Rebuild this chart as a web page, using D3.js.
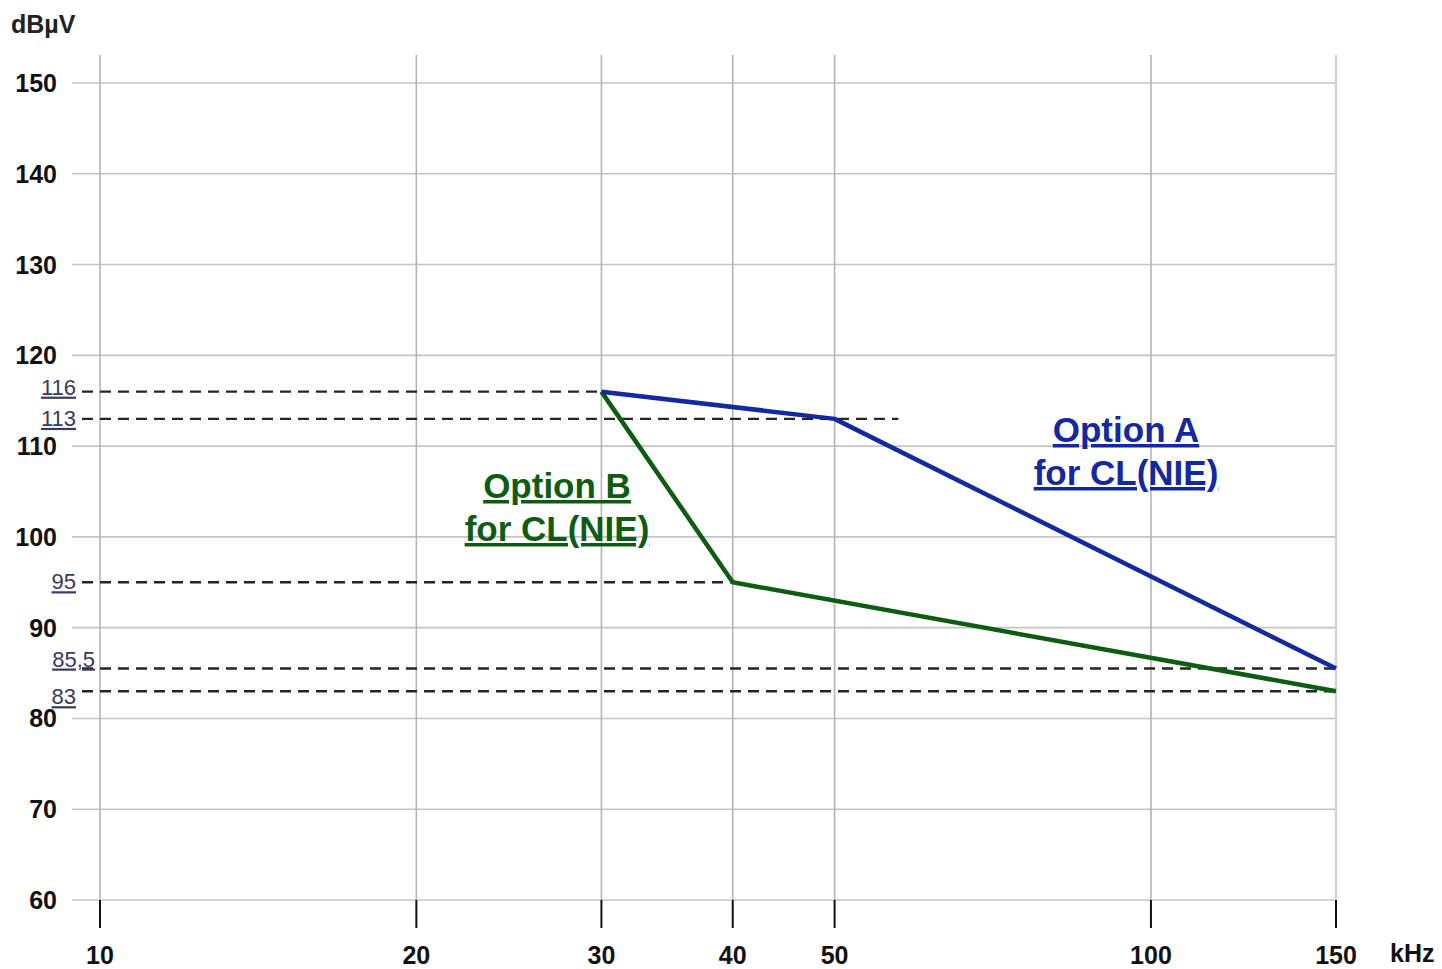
<!DOCTYPE html>
<html>
<head>
<meta charset="utf-8">
<script src="https://cdn.jsdelivr.net/npm/d3@7"></script>
<style>
  html, body { margin: 0; padding: 0; background: #fff; }
  svg { display: block; font-family: Arial, "Liberation Sans", sans-serif; }
</style>
</head>
<body>
<svg id="chart" width="1442" height="969"></svg>
<script>
// Frequency ticks (kHz) and level ticks (dBµV)
const xTicks = [10, 20, 30, 40, 50, 100, 150];
const yTicks = [60, 70, 80, 90, 100, 110, 120, 130, 140, 150];

// Limit lines: [frequency kHz, level dBµV]
const optionA = [[30, 116], [50, 113], [150, 85.5]];
const optionB = [[30, 116], [40, 95], [150, 83]];

// Reference levels: label, level, frequency where the dashed line stops
const refLabels = ["116", "113", "95", "85,5", "83"];
const refLevels = [116, 113, 95, 85.5, 83];
const refEnds = [30, 57.5, 40, 150, 150];

// Layout of the reference labels (baseline offset from the line, right edge)
const refLabelDy = [3, 7, 7, -2, 13];
const refLabelX = [76, 76, 76, 95, 76];

const svg = d3.select("#chart");

const x = d3.scaleLog().domain([10, 150]).range([100, 1336]);
const y = d3.scaleLinear().domain([60, 150]).range([900, 83]);

// Horizontal grid
svg.append("g").selectAll("line").data(yTicks).join("line")
  .attr("x1", 72).attr("x2", 1336)
  .attr("y1", d => y(d)).attr("y2", d => y(d))
  .attr("stroke", "#c4c4c4").attr("stroke-width", 1.6);

// Vertical grid
svg.append("g").selectAll("line").data(xTicks).join("line")
  .attr("x1", d => x(d)).attr("x2", d => x(d))
  .attr("y1", 55).attr("y2", 900)
  .attr("stroke", d => d === 150 ? "#d4d4d4" : "#b4b4b4")
  .attr("stroke-width", d => d === 150 ? 2.5 : 1.6);

// Tick marks below the axis
svg.append("g").selectAll("line").data(xTicks).join("line")
  .attr("x1", d => x(d)).attr("x2", d => x(d))
  .attr("y1", 900).attr("y2", 928)
  .attr("stroke", "#111").attr("stroke-width", 2);

// Y tick labels
svg.append("g").selectAll("text").data(yTicks).join("text")
  .attr("x", 57).attr("y", d => y(d) + 9)
  .attr("text-anchor", "end")
  .attr("font-size", 25).attr("font-weight", "bold").attr("fill", "#111")
  .text(d => d);

// X tick labels
svg.append("g").selectAll("text").data(xTicks).join("text")
  .attr("x", d => x(d)).attr("y", 964)
  .attr("text-anchor", "middle")
  .attr("font-size", 25).attr("font-weight", "bold").attr("fill", "#111")
  .text(d => d);

// Axis units
svg.append("text").attr("x", 11).attr("y", 33)
  .attr("font-size", 25).attr("font-weight", "bold").attr("fill", "#222")
  .text("dBµV");
svg.append("text").attr("x", 1390).attr("y", 962)
  .attr("font-size", 25).attr("font-weight", "bold").attr("fill", "#111")
  .text("kHz");

// Dashed reference lines
svg.append("g").selectAll("line").data(refLevels).join("line")
  .attr("x1", 82).attr("x2", (d, i) => x(refEnds[i]))
  .attr("y1", d => y(d)).attr("y2", d => y(d))
  .attr("stroke", "#252525").attr("stroke-width", 2.4)
  .attr("stroke-dasharray", "11,7");

// Reference labels (underlined)
svg.append("g").selectAll("text").data(refLevels).join("text")
  .attr("x", (d, i) => refLabelX[i])
  .attr("y", (d, i) => y(d) + refLabelDy[i])
  .attr("text-anchor", "end")
  .attr("font-size", 22).attr("fill", "#3a3a5a")
  .attr("text-decoration", "underline")
  .text((d, i) => refLabels[i]);

// Limit lines
const line = d3.line().x(d => x(d[0])).y(d => y(d[1]));
svg.append("path").datum(optionB).attr("d", line)
  .attr("fill", "none").attr("stroke", "#0d5c12").attr("stroke-width", 4.5)
  .attr("stroke-linejoin", "round");
svg.append("path").datum(optionA).attr("d", line)
  .attr("fill", "none").attr("stroke", "#1428a0").attr("stroke-width", 4.5)
  .attr("stroke-linejoin", "round");

// Option labels
function optionLabel(cx, y1, color, lines) {
  lines.forEach((s, i) => {
    svg.append("text").attr("x", cx).attr("y", y1 + i * 43)
      .attr("text-anchor", "middle")
      .attr("font-size", 35).attr("font-weight", "bold").attr("fill", color)
      .attr("text-decoration", "underline")
      .text(s);
  });
}
optionLabel(1126, 442, "#1428a0", ["Option A", "for CL(NIE)"]);
optionLabel(557, 498, "#0d5c12", ["Option B", "for CL(NIE)"]);
</script>
</body>
</html>
